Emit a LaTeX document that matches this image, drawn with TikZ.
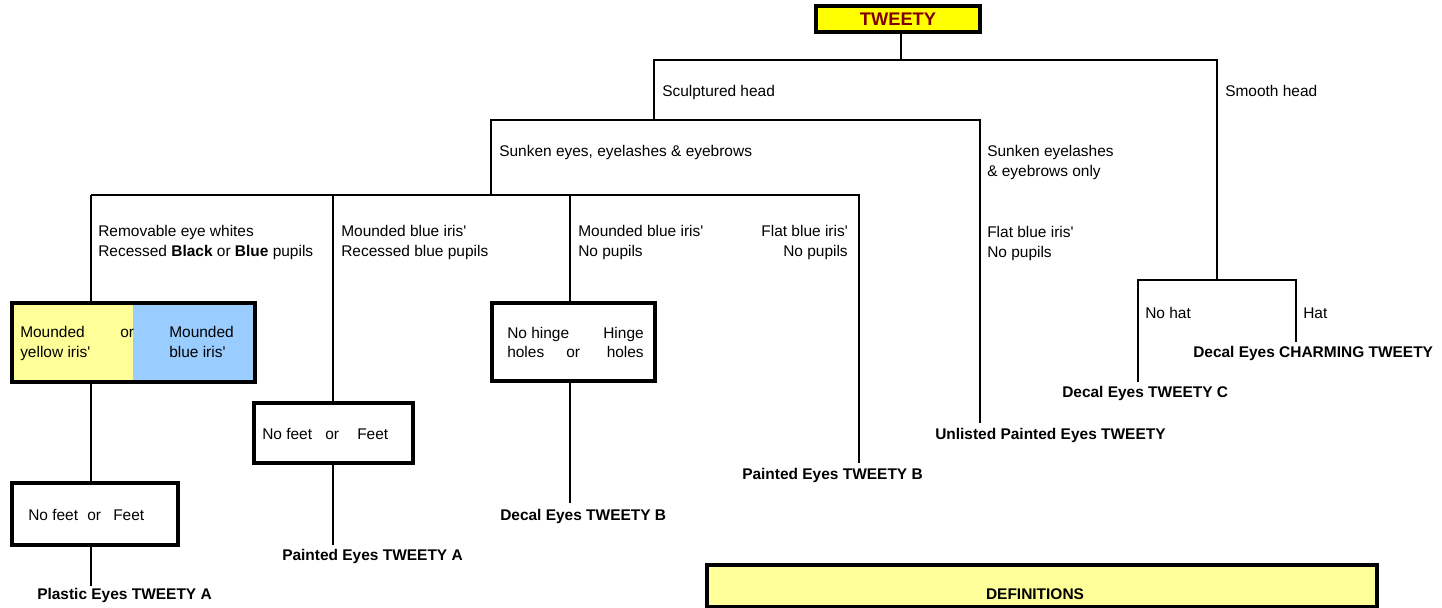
\documentclass[tikz,border=0pt]{standalone}
\usepackage{fontspec}
\defaultfontfeatures[\rmfamily]{}
\setmainfont{Liberation Sans}
\definecolor{tyellow}{HTML}{FFFF00}
\definecolor{tred}{HTML}{800000}
\definecolor{lyellow}{HTML}{FFFF99}
\definecolor{lblue}{HTML}{99CCFF}
\tikzset{
  lbl/.style={inner sep=0, anchor=base west, font=\fontsize{11.6}{14}\selectfont},
  lblr/.style={lbl, anchor=base east},
  res/.style={inner sep=0, anchor=base west, font=\fontsize{11.6}{14}\selectfont\bfseries},
  conn/.style={line width=1.6pt},
  box/.style={draw, line width=2.3pt, inner sep=0},
  sz/.style 2 args={minimum width=#1*0.75pt, minimum height=#2*0.75pt},
}
\begin{document}
\begin{tikzpicture}[x=0.75pt, y=-0.75pt]
\useasboundingbox (0,0) rectangle (1442,607);
% boxes
\node[box, fill=tyellow, sz={164}{26}, font=\fontsize{13.7}{16}\selectfont\bfseries, text=tred] (tweety) at (898,19) {TWEETY};
\fill[lyellow] (12,303) rectangle (133,382);
\fill[lblue] (133,303) rectangle (255,382);
\node[box, sz={243}{79}] (yb) at (133.5,342.5) {};
\node[box, sz={166}{62}] (f1) at (95,514) {};
\node[box, sz={159}{60}] (f2) at (333.5,433) {};
\node[box, sz={163}{78}] (hg) at (573.5,342) {};
\node[box, fill=lyellow, sz={670}{42}] (defs) at (1042,586) {};
% junction coordinates
\coordinate (r0) at (901,60);
\coordinate (sc) at (654,60);
\coordinate (sm) at (1217,60);
\coordinate (sc2) at (654,120);
\coordinate (l2a) at (491,120);
\coordinate (l2b) at (980,120);
\coordinate (l2a3) at (491,195);
\coordinate (c1) at (91,195);
\coordinate (c2) at (333,195);
\coordinate (c3) at (570,195);
\coordinate (c4) at (859,195);
\coordinate (sm2) at (1217,280);
\coordinate (h1) at (1138,280);
\coordinate (h2) at (1296,280);
\coordinate (e1) at (91,586);
\coordinate (e2) at (333,545);
\coordinate (e3) at (570,503);
\coordinate (e4) at (859,463);
\coordinate (e5) at (980,423);
\coordinate (e6) at (1138,382);
\coordinate (e7) at (1296,342);
% connectors
\draw[conn] (tweety.south -| r0) -- (r0);
\draw[conn] (sc2) -- (sc) -- (sm) -- (sm2);
\draw[conn] (l2a3) -- (l2a) -- (l2b) -- (e5);
\draw[conn] (c1) -- (c4) -- (e4);
\draw[conn] (c1) -- (c1 |- yb.north);
\draw[conn] (yb.south -| c1) -- (f1.north -| c1);
\draw[conn] (f1.south -| c1) -- (e1);
\draw[conn] (c2) -- (c2 |- f2.north);
\draw[conn] (f2.south -| c2) -- (e2);
\draw[conn] (c3) -- (c3 |- hg.north);
\draw[conn] (hg.south -| c3) -- (e3);
\draw[conn] (e6) -- (h1) -- (h2) -- (e7);
% branch labels
\node[lbl] (tsc) at (662,96) {Sculptured head};
\node[lbl] (tsm) at (1225,96) {Smooth head};
\node[lbl] (tse) at (499,156) {Sunken eyes, eyelashes \& eyebrows};
\node[lbl] (tsl1) at (987,156) {Sunken eyelashes};
\node[lbl] (tsl2) at (987,176) {\& eyebrows only};
\node[lbl] (tfb1) at (987,237) {Flat blue iris'};
\node[lbl] (tfb2) at (987,257) {No pupils};
\node[lbl] (tc11) at (98,236) {Removable eye whites};
\node[lbl] (tc12) at (98,256) {Recessed \textbf{Black} or \textbf{Blue} pupils};
\node[lbl] (tc21) at (341,236) {Mounded blue iris'};
\node[lbl] (tc22) at (341,256) {Recessed blue pupils};
\node[lbl] (tc31) at (578,236) {Mounded blue iris'};
\node[lbl] (tc32) at (578,256) {No pupils};
\node[lblr] (tc41) at (848,236) {Flat blue iris'};
\node[lblr] (tc42) at (848,256) {No pupils};
% box texts
\node[lbl] (y1) at (20,337) {Mounded};
\node[lbl] (y2) at (20,357) {yellow iris'};
\node[lbl] (yor) at (120,337) {or};
\node[lbl] (b1) at (169,337) {Mounded};
\node[lbl] (b2) at (169,357) {blue iris'};
\node[lbl] (h11) at (507,338) {No hinge};
\node[lbl] (h12) at (507,357) {holes};
\node[lbl] (hor) at (566,357) {or};
\node[lblr] (h21) at (644,338) {Hinge};
\node[lblr] (h22) at (644,357) {holes};
\node[lbl] (f1a) at (28,520) {No feet};
\node[lbl] (f1o) at (87,520) {or};
\node[lbl] (f1b) at (113,520) {Feet};
\node[lbl] (f2a) at (262,439) {No feet};
\node[lbl] (f2o) at (325,439) {or};
\node[lbl] (f2b) at (357,439) {Feet};
\node[lbl] (tnh) at (1145,318) {No hat};
\node[lbl] (th) at (1303,318) {Hat};
% results
\node[res] (rpa) at (37,599) {Plastic Eyes TWEETY A};
\node[res] (rpta) at (282,560) {Painted Eyes TWEETY A};
\node[res] (rdb) at (500,520) {Decal Eyes TWEETY B};
\node[res] (rptb) at (742,479) {Painted Eyes TWEETY B};
\node[res] (run) at (935,439) {Unlisted Painted Eyes TWEETY};
\node[res] (rdc) at (1062,397) {Decal Eyes TWEETY C};
\node[res] (rch) at (1193,357) {Decal Eyes CHARMING TWEETY};
\node[res, anchor=base] (tdef) at (1035,599) {DEFINITIONS};
\end{tikzpicture}
\end{document}
